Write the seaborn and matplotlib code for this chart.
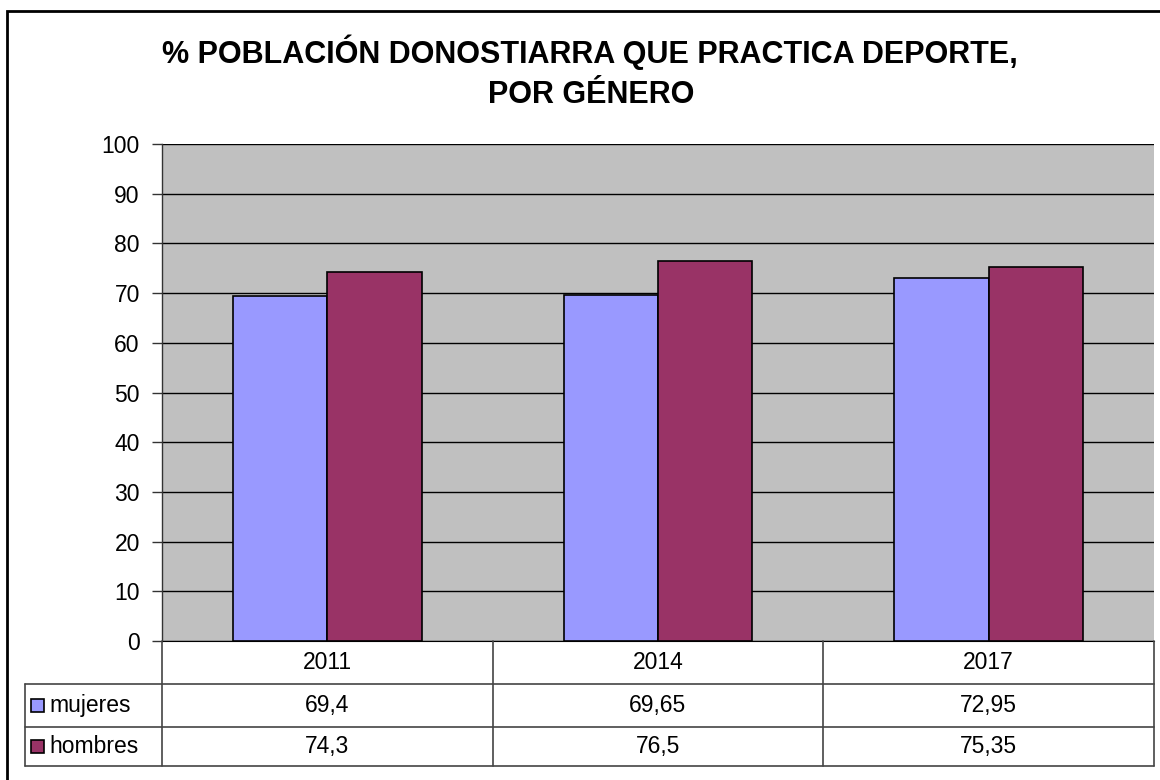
import pandas as pd
import seaborn as sns
import matplotlib.pyplot as plt
from matplotlib.patches import Rectangle
from matplotlib.lines import Line2D

# data
years = ['2011', '2014', '2017']
mujeres = [69.4, 69.65, 72.95]
hombres = [74.3, 76.5, 75.35]
series = ['mujeres', 'hombres']
colors = ['#9999FF', '#993366']
title_lines = ['% POBLACIÓN DONOSTIARRA QUE PRACTICA DEPORTE,', 'POR GÉNERO']

df = pd.DataFrame({'year': years * 2,
                   'serie': ['mujeres'] * 3 + ['hombres'] * 3,
                   'valor': mujeres + hombres})

sns.set_style('white')
plt.rcParams['font.family'] = ['Liberation Sans', 'DejaVu Sans']
plt.rcParams['text.color'] = 'black'
plt.rcParams['ytick.color'] = 'black'

W, H = 1160, 780
fig = plt.figure(figsize=(W / 100, H / 100), dpi=100)

# pixel helpers
def fx(px):
    return px / W

def fy(py):
    return 1 - py / H

left, right, top, zero = 162, 1154, 144, 641
ax = fig.add_axes([fx(left), fy(zero), fx(right - left), fy(top) - fy(zero)])
ax.set_facecolor('#C0C0C0')

sns.barplot(data=df, x='year', y='valor', hue='serie', hue_order=series,
            palette=colors, width=0.57, edgecolor='black', linewidth=1.2,
            saturation=1, ax=ax, legend=False, zorder=3)

ax.set_ylim(0, 100)
ax.set_yticks(range(0, 101, 10))
ax.yaxis.grid(True, color='black', linewidth=1, zorder=1)
ax.set_axisbelow(True)
ax.tick_params(axis='y', left=True, length=7, width=1, labelsize=16.5, pad=9,
               color='#333333', labelcolor='black')
ax.tick_params(axis='x', bottom=False, labelbottom=False)
ax.set_xlabel('')
ax.set_ylabel('')
for side in ['top', 'right']:
    ax.spines[side].set_visible(False)
ax.spines['left'].set_color('#333333')
ax.spines['bottom'].set_color('black')
ax.spines['left'].set_linewidth(1)

# data table under the chart
def hline(y, x0, x1, c='#444444'):
    fig.add_artist(Line2D([fx(x0), fx(x1)], [fy(y), fy(y)], color=c, lw=1.2))

def vline(x, y0, y1, c='#444444'):
    fig.add_artist(Line2D([fx(x), fx(x)], [fy(y0), fy(y1)], color=c, lw=1.2))

tab_left = 25
rows = [641, 684, 727, 766]
cols = [162, 493, 823, 1154]
for y in rows[1:]:
    hline(y, tab_left, right)
for x in cols:
    vline(x, rows[0], rows[-1])
vline(tab_left, rows[1], rows[-1])

for i, yr in enumerate(years):
    cx = (cols[i] + cols[i + 1]) / 2
    fig.text(fx(cx), fy((rows[0] + rows[1]) / 2), yr, ha='center', va='center', fontsize=16.5)
    for j, vals in enumerate([mujeres, hombres]):
        cy = (rows[j + 1] + rows[j + 2]) / 2
        fig.text(fx(cx), fy(cy), f'{vals[i]:g}'.replace('.', ','),
                 ha='center', va='center', fontsize=16.5)

for j, (name, c) in enumerate(zip(series, colors)):
    cy = (rows[j + 1] + rows[j + 2]) / 2
    fig.add_artist(Rectangle((fx(31), fy(cy + 6.5)), fx(13), fy(cy - 6.5) - fy(cy + 6.5),
                             facecolor=c, edgecolor='black', lw=1.2))
    fig.text(fx(49), fy(cy), name, ha='left', va='center', fontsize=16.5)

# title, two centred lines
fig.text(fx(590), fy(63), title_lines[0], ha='center', va='baseline',
         fontsize=22, fontweight='bold')
fig.text(fx(591), fy(103), title_lines[1], ha='center', va='baseline',
         fontsize=22, fontweight='bold')

# outer frame (runs off the right and bottom edges)
fig.add_artist(Rectangle((fx(7), fy(H + 10)), fx(W + 10), fy(11) - fy(H + 10),
                         facecolor='none', edgecolor='black', lw=2))

fig.savefig('out.png', dpi=100)
